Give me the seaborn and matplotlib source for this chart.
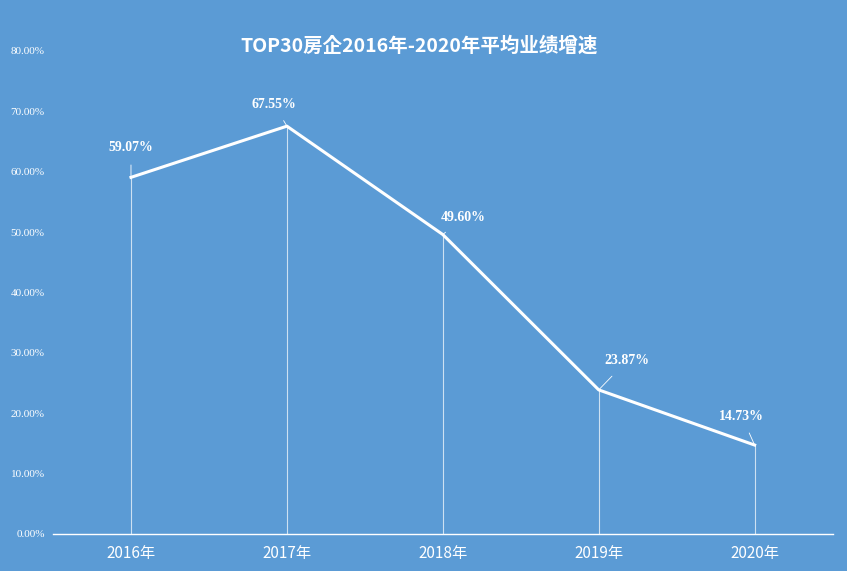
import matplotlib
matplotlib.use("Agg")
import matplotlib.pyplot as plt
from matplotlib import font_manager as fm
import seaborn as sns
import pandas as pd

years = ["2016年", "2017年", "2018年", "2019年", "2020年"]
growth = [59.07, 67.55, 49.60, 23.87, 14.73]
yticks = [0, 10, 20, 30, 40, 50, 60, 70, 80]
label_offsets = [(0, 30), (-13, 22), (20, 17), (28, 29), (-13, 29)]

files = sorted(f for f in fm.findSystemFonts() if "CJK" in f and "Sans" in f and "Mono" not in f)
heavy = ("Bold", "Black", "Heavy", "Medium", "Light", "Thin", "DemiLight")
reg = [f for f in files if not any(h in f for h in heavy)]
bold = [f for f in files if "Bold" in f]
cjk = reg[0] if reg else (files[0] if files else None)
cjk_b = bold[0] if bold else cjk
fp = fm.FontProperties(fname=cjk, size=11) if cjk else fm.FontProperties(size=11)
fpt = fm.FontProperties(fname=cjk_b, size=14) if cjk_b else fm.FontProperties(size=14)

bg = "#5B9BD5"
fig = plt.figure(figsize=(8.47, 5.71), dpi=100, facecolor=bg)
ax = fig.add_axes([0.0626, 0.0648, 0.9204, 0.8459], facecolor=bg)

df = pd.DataFrame({"x": range(len(years)), "y": growth})
sns.lineplot(data=df, x="x", y="y", ax=ax, color="white", linewidth=2.2)
ax.vlines(df["x"], 0, df["y"], color="white", linewidth=0.8, alpha=0.7)

for i, (v, off) in enumerate(zip(growth, label_offsets)):
    ax.annotate(f"{v:.2f}%", xy=(i, v), xytext=off, textcoords="offset pixels",
                ha="center", va="center", color="white", fontsize=10,
                fontweight="bold", family="Liberation Serif",
                arrowprops=dict(arrowstyle="-", color="white", lw=0.6, shrinkA=6, shrinkB=0))

ax.set_xlim(-0.5, 4.5)
ax.set_ylim(0, 80)
ax.set_xticks(range(len(years)))
ax.set_xticklabels(years, fontproperties=fp, color="white")
ax.set_yticks(yticks)
ax.set_yticklabels([f"{t:.2f}%" for t in yticks], family="Liberation Serif", fontsize=8, color="white")
ax.tick_params(length=0, pad=8)
ax.tick_params(axis="y", pad=6)
ax.set_xlabel("")
ax.set_ylabel("")
for s in ["top", "right", "left"]:
    ax.spines[s].set_visible(False)
ax.spines["bottom"].set_color("white")
ax.spines["bottom"].set_linewidth(1)

fig.text(0.495, 0.92, "TOP30房企2016年-2020年平均业绩增速", ha="center", va="center",
         color="white", fontproperties=fpt)

fig.savefig("out.png", dpi=100, facecolor=bg)
